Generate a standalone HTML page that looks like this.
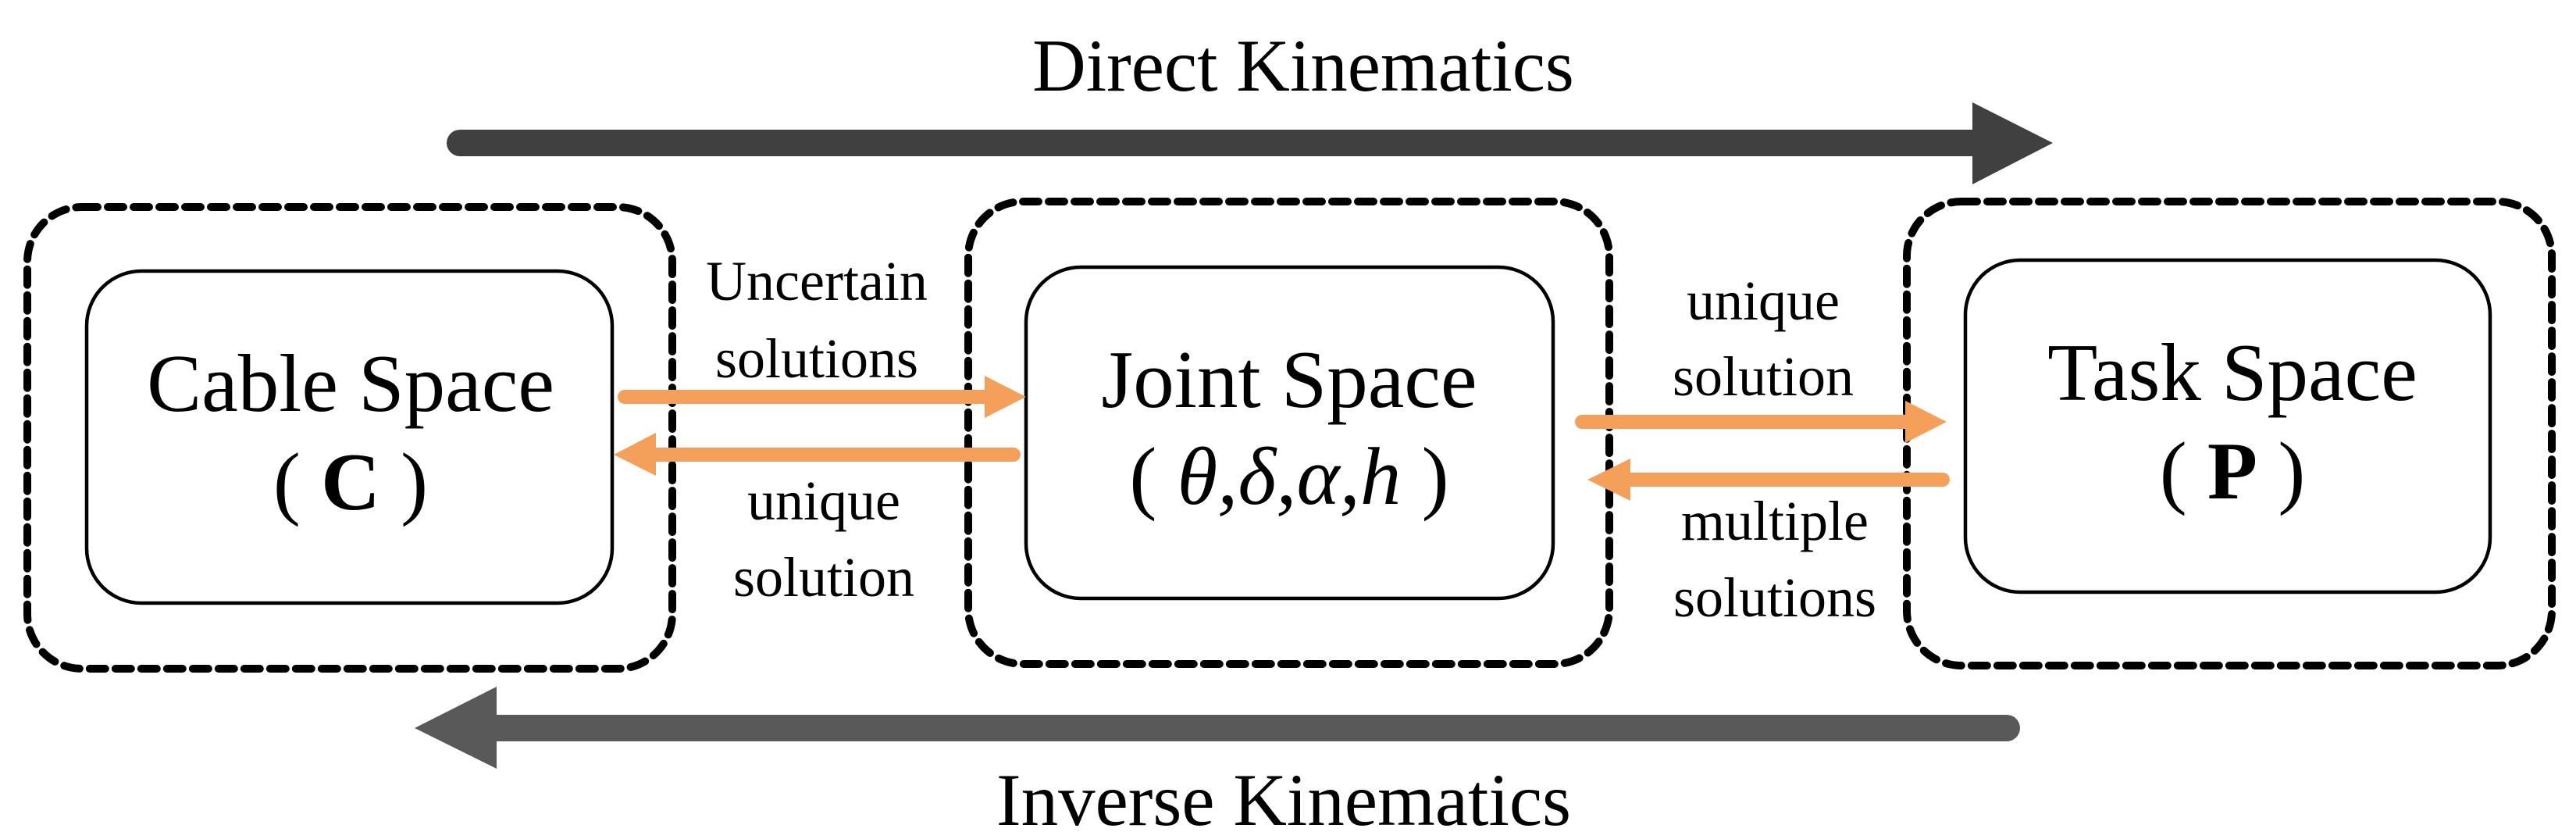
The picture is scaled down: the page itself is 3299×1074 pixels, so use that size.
<!DOCTYPE html>
<html><head><meta charset="utf-8"><style>html,body{margin:0;padding:0;background:#fff;}svg{display:block}svg text{font-family:"Liberation Serif","DejaVu Serif",serif;}</style></head>
<body>
<svg width="3299" height="1074" viewBox="0 0 3299 1074" xmlns="http://www.w3.org/2000/svg" fill="#000">
<!-- top direct arrow -->
<line x1="589" y1="183" x2="2530" y2="183" stroke="#404040" stroke-width="34" stroke-linecap="round"/>
<polygon points="2526,131 2629,183 2526,236" fill="#404040"/>
<text x="1669" y="116" font-size="95" text-anchor="middle">Direct Kinematics</text>
<!-- bottom inverse arrow -->
<line x1="630" y1="932" x2="2570" y2="932" stroke="#595959" stroke-width="34" stroke-linecap="round"/>
<polygon points="636,879 531,932 636,984" fill="#595959"/>
<text x="1644" y="1056" font-size="95" text-anchor="middle">Inverse Kinematics</text>
<!-- dashed outer boxes -->
<g fill="none" stroke="#000" stroke-width="10" stroke-dasharray="20,13" stroke-linecap="round">
<rect x="35" y="265" width="826" height="591" rx="70"/>
<rect x="1240" y="258" width="821" height="592" rx="70"/>
<rect x="2442" y="258" width="826" height="594" rx="70"/>
</g>
<!-- inner boxes -->
<g fill="none" stroke="#000" stroke-width="4.5">
<rect x="111" y="347" width="673" height="425" rx="70"/>
<rect x="1314" y="342" width="675" height="424" rx="70"/>
<rect x="2517" y="333" width="672" height="425" rx="70"/>
</g>
<text x="449" y="526" font-size="105" text-anchor="middle">Cable Space</text>
<text x="449" y="652" font-size="105" text-anchor="middle">( <tspan font-weight="bold">C</tspan> )</text>
<text x="1651" y="521" font-size="105" text-anchor="middle">Joint Space</text>
<text x="1651" y="645" font-size="105" text-anchor="middle">( <tspan font-style="italic">θ,δ,α,h</tspan> )</text>
<text x="2859" y="512" font-size="105" text-anchor="middle">Task Space</text>
<text x="2859" y="638" font-size="105" text-anchor="middle">( <tspan font-weight="bold">P</tspan> )</text>
<!-- orange arrows -->
<g stroke="#F4A05A" stroke-width="18" stroke-linecap="round">
<line x1="800" y1="508" x2="1265" y2="508"/>
<line x1="836" y1="582" x2="1298" y2="582"/>
<line x1="2026" y1="540" x2="2445" y2="540"/>
<line x1="2084" y1="614" x2="2488" y2="614"/>
</g>
<g fill="#F4A05A">
<polygon points="1261,481 1314,508 1261,535"/>
<polygon points="840,554 786,582 840,609"/>
<polygon points="2440,513 2493,540 2440,567"/>
<polygon points="2088,587 2033,614 2088,641"/>
</g>
<g font-size="72" text-anchor="middle">
<text x="1046" y="384">Uncertain</text>
<text x="1046" y="483">solutions</text>
<text x="1055" y="665">unique</text>
<text x="1055" y="763">solution</text>
<text x="2258" y="409">unique</text>
<text x="2258" y="506">solution</text>
<text x="2273" y="691">multiple</text>
<text x="2273" y="789">solutions</text>
</g>
</svg>
</body></html>
